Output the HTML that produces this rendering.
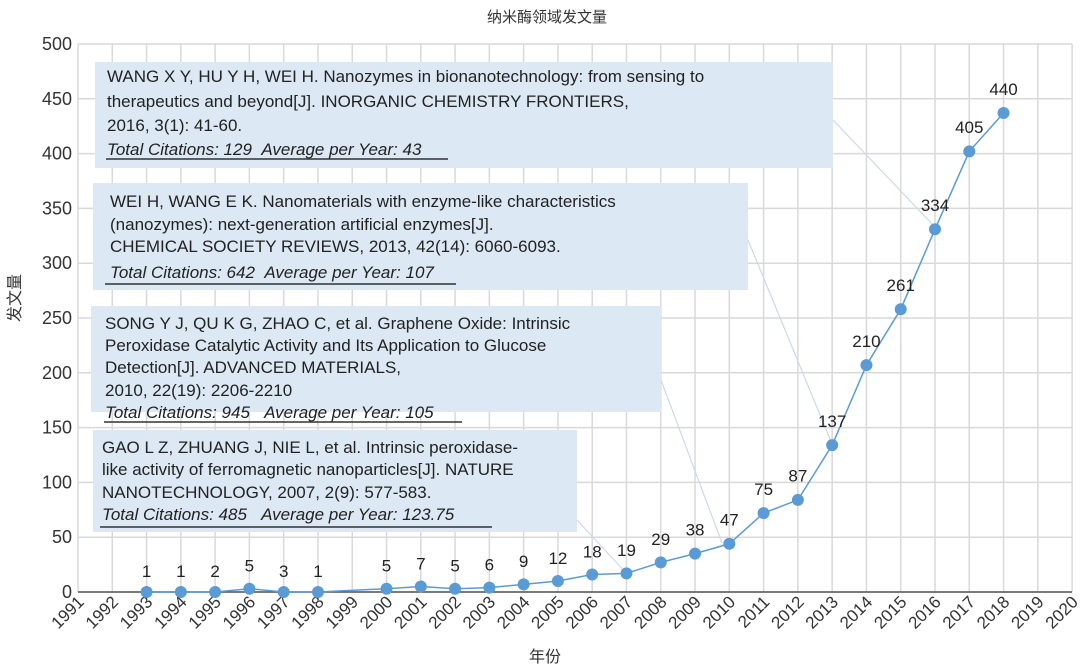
<!DOCTYPE html>
<html><head><meta charset="utf-8"><style>body{margin:0;background:#fff}svg{display:block}</style></head><body>
<svg width="1080" height="671" xmlns="http://www.w3.org/2000/svg" font-family="Liberation Sans, Noto Sans CJK SC, sans-serif">
<text x="547" y="22" font-size="15" text-anchor="middle" fill="#333">纳米酶领域发文量</text>
<g id="grid" stroke="#d9d9d9" stroke-width="1.5"></g>
<line x1="78" y1="592" x2="1072" y2="592" stroke="#555" stroke-width="1.5"/>
<g id="ylab" font-size="18" fill="#333" text-anchor="end"></g>
<g id="xlab" font-size="17" fill="#333"></g>
<text x="545" y="662" font-size="16" text-anchor="middle" fill="#333">年份</text>
<text transform="translate(20,298) rotate(-90)" font-size="16" text-anchor="middle" fill="#333">发文量</text>
<g stroke="#c9daea" stroke-width="1.2">
<line x1="833" y1="120" x2="935" y2="227"/>
<line x1="748" y1="240" x2="832" y2="444"/>
<line x1="661" y1="380" x2="722" y2="543"/>
<line x1="577" y1="520" x2="627" y2="574"/>
</g>
<g fill="#dce8f4">
<rect x="95" y="62" width="738" height="106"/>
<rect x="93" y="183" width="655" height="107"/>
<rect x="91" y="306" width="570" height="106"/>
<rect x="93" y="430" width="484" height="102"/>
</g>
<g font-size="17" fill="#222">
<text x="107" y="82">WANG X Y, HU Y H, WEI H. Nanozymes in bionanotechnology: from sensing to</text>
<text x="107" y="107">therapeutics and beyond[J]. INORGANIC CHEMISTRY FRONTIERS,</text>
<text x="107" y="131">2016, 3(1): 41-60.</text>
<text x="107" y="155" font-style="italic">Total Citations: 129&#160;&#160;Average per Year: 43</text>
<text x="110" y="207">WEI H, WANG E K. Nanomaterials with enzyme-like characteristics</text>
<text x="110" y="230">(nanozymes): next-generation artificial enzymes[J].</text>
<text x="110" y="252">CHEMICAL SOCIETY REVIEWS, 2013, 42(14): 6060-6093.</text>
<text x="110" y="278" font-style="italic">Total Citations: 642&#160;&#160;Average per Year: 107</text>
<text x="105" y="329">SONG Y J, QU K G, ZHAO C, et al. Graphene Oxide: Intrinsic</text>
<text x="105" y="351">Peroxidase Catalytic Activity and Its Application to Glucose</text>
<text x="105" y="373">Detection[J]. ADVANCED MATERIALS,</text>
<text x="105" y="396">2010, 22(19): 2206-2210</text>
<text x="105" y="418" font-style="italic">Total Citations: 945&#160;&#160;&#160;Average per Year: 105</text>
<text x="102" y="453">GAO L Z, ZHUANG J, NIE L, et al. Intrinsic peroxidase-</text>
<text x="102" y="475">like activity of ferromagnetic nanoparticles[J]. NATURE</text>
<text x="102" y="498">NANOTECHNOLOGY, 2007, 2(9): 577-583.</text>
<text x="102" y="520" font-style="italic">Total Citations: 485&#160;&#160;&#160;Average per Year: 123.75</text>
</g>
<g stroke="#333" stroke-width="1.5">
<line x1="106" y1="159" x2="448" y2="159"/>
<line x1="105" y1="284" x2="456" y2="284"/>
<line x1="104" y1="422" x2="462" y2="422"/>
<line x1="100" y1="527" x2="492" y2="527"/>
</g>
<polyline id="ln" fill="none" stroke="#5b9bd5" stroke-width="1.5"/>
<g id="pts" fill="#5b9bd5"></g>
<g id="vl" font-size="17" fill="#222" text-anchor="middle"></g>
<script>
var ns="http://www.w3.org/2000/svg";
function el(p,t,a,txt){var e=document.createElementNS(ns,t);for(var k in a)e.setAttribute(k,a[k]);if(txt!==undefined)e.textContent=txt;document.getElementById(p).appendChild(e);return e;}
function X(y){return 78+(y-1991)*34.28;}
function Y(v){return 592-v*1.096;}
for(var v=0;v<=500;v+=50){el("grid","line",{x1:78,x2:1072,y1:Y(v),y2:Y(v)});el("ylab","text",{x:72,y:Y(v)+6},v);}
for(var y=1991;y<=2020;y++){el("grid","line",{x1:X(y),x2:X(y),y1:44,y2:592});el("xlab","text",{x:0,y:0,"text-anchor":"end",transform:"translate("+(X(y)+7)+",603) rotate(-45)"},y);}
var d=[[1993,1],[1994,1],[1995,2],[1996,5],[1997,3],[1998,1],[2000,5],[2001,7],[2002,5],[2003,6],[2004,9],[2005,12],[2006,18],[2007,19],[2008,29],[2009,38],[2010,47],[2011,75],[2012,87],[2013,137],[2014,210],[2015,261],[2016,334],[2017,405],[2018,440]];
var pts=[];
d.forEach(function(p){var val=p[1];if(val<=3)val=0;else if(val<30)val=val-2;else val=val-3;var yy=Y(val);pts.push(X(p[0])+","+yy);el("pts","circle",{cx:X(p[0]),cy:yy,r:6});el("vl","text",{x:X(p[0]),y:Y(p[1]<=3?0:p[1])-15},p[1]);});
document.getElementById("ln").setAttribute("points",pts.join(" "));
</script>
</svg>
</body></html>
